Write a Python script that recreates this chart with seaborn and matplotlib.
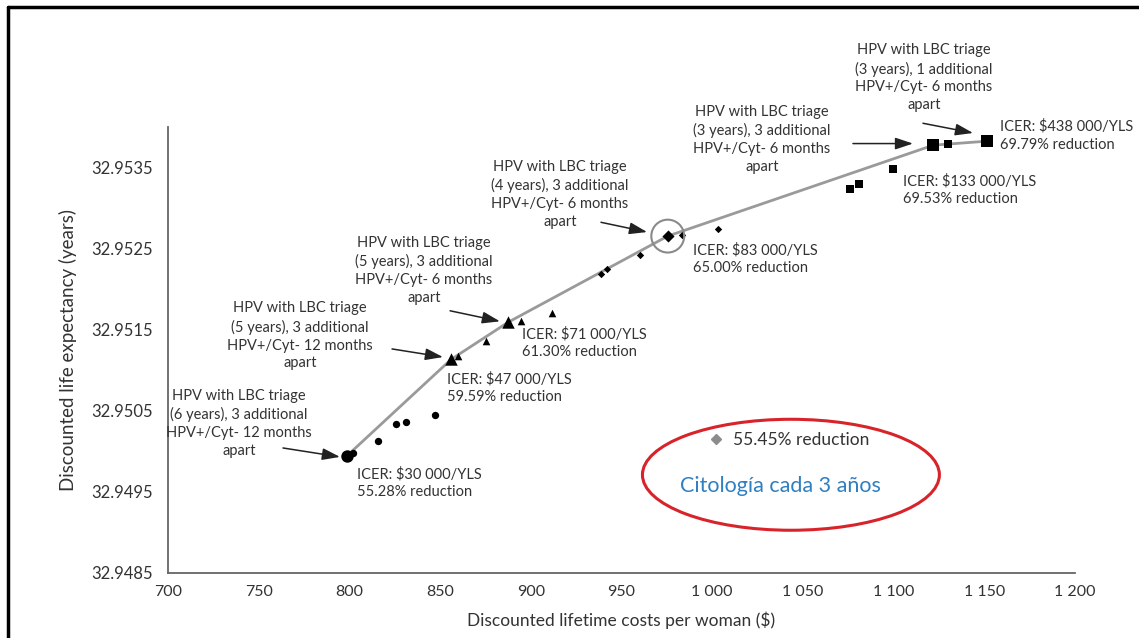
import matplotlib
matplotlib.use("Agg")
import matplotlib.pyplot as plt
from matplotlib.patches import Ellipse
from matplotlib.lines import Line2D
import seaborn as sns
import pandas as pd

# strategies (cost $, life expectancy years)
circle_x = [798.5, 802.2, 815.9, 825.7, 831.2, 847.2]
circle_y = [32.94994, 32.94998, 32.95013, 32.95033, 32.95036, 32.95045]
triangle_x = [856.0, 859.7, 875.3, 887.6, 894.4, 911.5]
triangle_y = [32.95113, 32.95117, 32.95136, 32.95159, 32.95161, 32.95170]
diamond_x = [938.5, 942.2, 960.2, 975.5, 983.5, 1003.4]
diamond_y = [32.95218, 32.95224, 32.95242, 32.95265, 32.95266, 32.95274]
square_x = [1076.0, 1081.1, 1099.8, 1121.9, 1130.2, 1151.7]
square_y = [32.95323, 32.95329, 32.95348, 32.95377, 32.95378, 32.95382]
# index of the efficient strategies within each group
frontier_idx = {"circle": [0], "triangle": [0, 3], "diamond": [3], "square": [3, 5]}

x_ticks = [700, 750, 800, 850, 900, 950, 1000, 1050, 1100, 1150, 1200]
x_tick_labels = ["700", "750", "800", "850", "900", "950", "1 000", "1 050", "1 100", "1 150", "1 200"]
y_ticks = [32.9485, 32.9495, 32.9505, 32.9515, 32.9525, 32.9535]

strategy_labels = [
    "HPV with LBC triage\n(6 years), 3 additional\nHPV+/Cyt- 12 months\napart",
    "HPV with LBC triage\n(5 years), 3 additional\nHPV+/Cyt- 12 months\napart",
    "HPV with LBC triage\n(5 years), 3 additional\nHPV+/Cyt- 6 months\napart",
    "HPV with LBC triage\n(4 years), 3 additional\nHPV+/Cyt- 6 months\napart",
    "HPV with LBC triage\n(3 years), 3 additional\nHPV+/Cyt- 6 months\napart",
    "HPV with LBC triage\n(3 years), 1 additional\nHPV+/Cyt- 6 months\napart",
]
icer_labels = [
    "ICER: $30 000/YLS\n55.28% reduction",
    "ICER: $47 000/YLS\n59.59% reduction",
    "ICER: $71 000/YLS\n61.30% reduction",
    "ICER: $83 000/YLS\n65.00% reduction",
    "ICER: $133 000/YLS\n69.53% reduction",
    "ICER: $438 000/YLS\n69.79% reduction",
]
cytology_label = "55.45% reduction"
cytology_note = "Citología cada 3 años"

groups = {
    "circle": (circle_x, circle_y, "o", 28, 80),
    "triangle": (triangle_x, triangle_y, "^", 30, 80),
    "diamond": (diamond_x, diamond_y, "D", 14, 38),
    "square": (square_x, square_y, "s", 30, 80),
}

rows = []
for name, (xs, ys, _, _, _) in groups.items():
    for i, (xv, yv) in enumerate(zip(xs, ys)):
        rows.append({"group": name, "cost": xv, "life": yv,
                     "frontier": i in frontier_idx[name]})
df = pd.DataFrame(rows)

sns.set_theme(style="white")
plt.rcParams["font.family"] = ["Lato", "DejaVu Sans"]
text_col = "#333333"

fig = plt.figure(figsize=(11.39, 6.38), dpi=100)
ax = fig.add_axes([0.1475, 0.1019, 0.7963, 0.6998])

front = df[df["frontier"]].sort_values("cost")
sns.lineplot(data=front, x="cost", y="life", color="#9a9a9a", lw=2,
             sort=True, ax=ax, zorder=2)

for name, (_, _, mk, s_small, s_big) in groups.items():
    sub = df[df["group"] == name]
    sns.scatterplot(data=sub[~sub["frontier"]], x="cost", y="life", marker=mk,
                    s=s_small, color="black", edgecolor="black", linewidth=0,
                    ax=ax, zorder=3)
    sns.scatterplot(data=sub[sub["frontier"]], x="cost", y="life", marker=mk,
                    s=s_big, color="black", edgecolor="black", linewidth=0,
                    ax=ax, zorder=3)

# open ring around the 4-year strategy
ring = front[front["group"] == "diamond"]
ax.scatter(ring["cost"], ring["life"], s=560, facecolors="none",
           edgecolors="#8a8a8a", linewidths=1.5, zorder=4)

# strategy descriptions with arrows (text centre, arrow start, arrow tip)
label_pos = [
    ((739.1, 32.95034), (763.4, 32.95004), (794.8, 32.94993)),
    ((772.8, 32.95142), (823.5, 32.95126), (851.6, 32.95116)),
    ((841.1, 32.95223), (855.5, 32.95173), (883.0, 32.95160)),
    ((916.1, 32.95316), (938.7, 32.95282), (964.1, 32.95270)),
    ((1027.5, 32.95384), (1077.6, 32.95379), (1110.7, 32.95379)),
    ((1116.8, 32.95460), (1116.2, 32.95404), (1143.8, 32.95392)),
]
for txt, (tpos, start, tip) in zip(strategy_labels, label_pos):
    ax.text(tpos[0], tpos[1], txt, ha="center", va="center", fontsize=10.5,
            color=text_col, linespacing=1.35, clip_on=False)
    ax.annotate("", xy=tip, xytext=start, annotation_clip=False,
                arrowprops=dict(arrowstyle="-|>,head_length=0.9,head_width=0.3",
                                color="#222222", lw=1.1, shrinkA=0, shrinkB=0))

icer_pos = [(804.2, 32.94961), (853.8, 32.95078), (895.1, 32.95133),
            (989.4, 32.95237), (1105.2, 32.95322), (1158.7, 32.95389)]
for txt, (xp, yp) in zip(icer_labels, icer_pos):
    ax.text(xp, yp, txt, ha="left", va="center", fontsize=10.5,
            color=text_col, linespacing=1.35, clip_on=False)

# cytology comparator
ax.add_patch(Ellipse((1043.4, 32.94971), 163.7, 0.001367, fill=False,
                     edgecolor="#d8232a", lw=2.2, zorder=5))
ax.text(1037.4, 32.94957, cytology_note, ha="center", va="center",
        fontsize=15.5, color="#2f7fc1")
handle = Line2D([], [], marker="D", ls="none", color="#8c8c8c", markersize=5)
ax.legend([handle], [cytology_label], loc="center left",
          bbox_to_anchor=(0.585, 0.298), frameon=False, handlelength=1.0,
          handletextpad=0.5, borderpad=0, fontsize=12.5, labelcolor=text_col)

ax.set_xlim(700, 1200)
ax.set_ylim(32.9485, 32.954)
ax.set_xticks(x_ticks)
ax.set_xticklabels(x_tick_labels)
ax.set_yticks(y_ticks)
ax.set_yticklabels([f"{v:.4f}" for v in y_ticks])
ax.tick_params(axis="x", direction="inout", length=7, width=1, colors="#555555",
               labelcolor=text_col, labelsize=11.5, pad=5)
ax.tick_params(axis="y", direction="out", length=5, width=1, colors="#555555",
               labelcolor=text_col, labelsize=12, pad=6)
ax.set_xlabel("Discounted lifetime costs per woman ($)", fontsize=12.5,
              color=text_col, labelpad=9)
ax.set_ylabel("Discounted life expectancy (years)", fontsize=13.5,
              color=text_col, labelpad=10)
sns.despine(ax=ax)
for sp in ["left", "bottom"]:
    ax.spines[sp].set_color("#666666")
    ax.spines[sp].set_linewidth(1.3)

# page frame
fig.add_artist(Line2D([0.007, 0.007], [0.0, 0.989], color="black", lw=2.5))
fig.add_artist(Line2D([0.007, 1.0], [0.989, 0.989], color="black", lw=2.5))

fig.savefig("out.png", dpi=100)
